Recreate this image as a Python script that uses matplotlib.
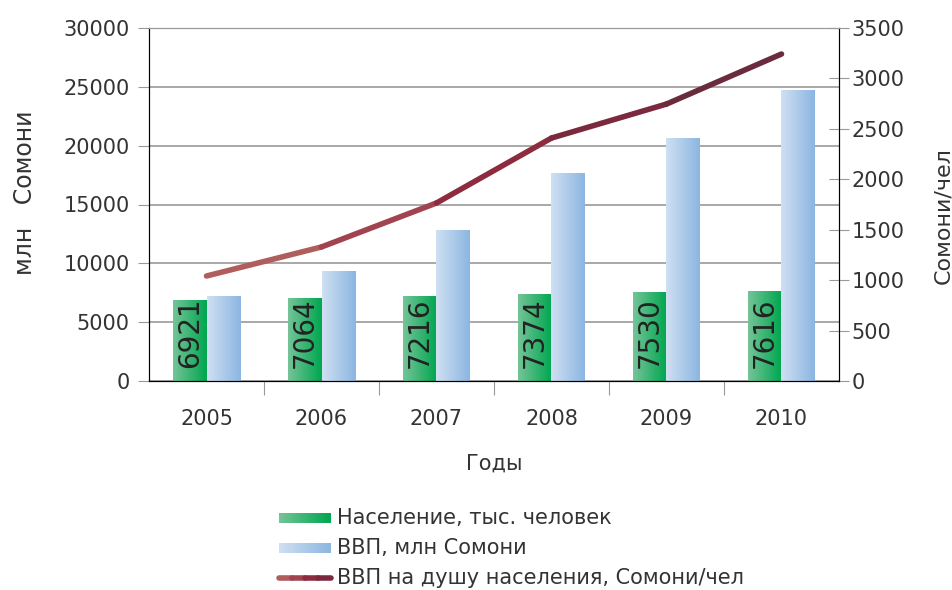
import matplotlib.pyplot as plt
import numpy as np
from matplotlib.collections import LineCollection
from matplotlib.colors import LinearSegmentedColormap

# Data
years = ['2005', '2006', '2007', '2008', '2009', '2010']
population = [6921, 7064, 7216, 7374, 7530, 7616]   # тыс. человек
gdp = [7207, 9335, 12804, 17707, 20623, 24705]      # млн Сомони
gdp_per_capita = [1041, 1329, 1765, 2409, 2746, 3242]  # Сомони/чел

plt.rcParams['font.family'] = ['DejaVu Sans']
txt = '#333333'
fs = 15

green_cm = LinearSegmentedColormap.from_list('g', ['#74c497', '#00a650'])
blue_cm = LinearSegmentedColormap.from_list('b', ['#cfe0f2', '#8cb6e1'])
line_colors = ['#b05d5d', '#a1444f', '#8d2c3e', '#7b2a3e', '#6a2b3d']

fig = plt.figure(figsize=(9.53, 5.9), dpi=100)
ax = fig.add_axes([149/953, 1-381/590, 690/953, 353/590])
ax2 = ax.twinx()

x = np.arange(len(years))
w = 0.29
grad = np.linspace(0, 1, 64).reshape(1, -1)


def gradient_bars(xs, heights, cmap):
    bars = ax.bar(xs, heights, w, color='none', edgecolor='none', zorder=2)
    for b in bars:
        x0, y0 = b.get_x(), b.get_y()
        im = ax.imshow(grad, cmap=cmap, aspect='auto', zorder=2,
                       extent=[x0, x0 + b.get_width(), y0, y0 + b.get_height()])
        im.set_clip_path(b)
    return bars


gradient_bars(x - w/2, population, green_cm)
gradient_bars(x + w/2, gdp, blue_cm)

for xi, v in zip(x, population):
    ax.annotate(str(v), (xi - w/2, 0), xytext=(0, 9), textcoords='offset points',
                rotation=90, ha='center', va='bottom', fontsize=20, color='#222222', zorder=4)

ax.set_xlim(-0.5, 5.5)
ax.set_ylim(0, 30000)
ax.set_yticks(np.arange(0, 30001, 5000))
ax.yaxis.grid(True, color='#999999', linewidth=1.2)
ax.set_axisbelow(True)

ax.set_xticks(np.arange(0.5, 5, 1))
ax.set_xticklabels([])
ax.set_xticks(x, minor=True)
ax.set_xticklabels(years, minor=True)
ax.tick_params(axis='x', which='major', direction='out', length=10, color='#999999')
ax.tick_params(axis='x', which='minor', length=0, pad=20, labelsize=fs, labelcolor=txt)
ax.tick_params(axis='y', direction='out', length=8, color='#999999', labelsize=fs,
               labelcolor=txt, pad=6)

# line on right axis
pts = np.column_stack([x, gdp_per_capita])
segs = [pts[i:i+2] for i in range(len(pts) - 1)]
lc = LineCollection(segs, colors=line_colors, linewidths=4, capstyle='round',
                    joinstyle='round', zorder=5)
ax2.add_collection(lc)
ax2.set_ylim(0, 3500)
ax2.set_yticks(np.arange(0, 3501, 500))
ax2.tick_params(axis='y', direction='inout', length=14, color='#999999', labelsize=fs,
                labelcolor=txt, pad=2)

for a in (ax, ax2):
    a.spines['top'].set_color('#999999')
    a.spines['left'].set_color('black')
    a.spines['right'].set_color('black')
    a.spines['bottom'].set_color('black')

ax.set_ylabel('млн   Сомони', fontsize=17, color=txt)
ax.yaxis.set_label_coords(-0.163, 0.533)
ax2.set_ylabel('Сомони/чел', fontsize=16, color=txt)
ax2.yaxis.set_label_coords(1.136, 0.47)
ax.set_xlabel('Годы', fontsize=fs, color=txt, labelpad=18)

# legend drawn in its own axes (pixel coordinates)
lg = fig.add_axes([0, 0, 1, 110/590])
lg.set_xlim(0, 953)
lg.set_ylim(590, 480)
lg.axis('off')
labels = ['Население, тыс. человек', 'ВВП, млн Сомони',
          'ВВП на душу населения, Сомони/чел']
rows = [518, 548, 578]
lg.imshow(grad, cmap=green_cm, aspect='auto', extent=[279, 331, rows[0] + 5, rows[0] - 5])
lg.imshow(grad, cmap=blue_cm, aspect='auto', extent=[279, 331, rows[1] + 5, rows[1] - 5])
lx = np.array([279, 292, 305, 318, 331])
lsegs = [[(lx[i], rows[2]), (lx[i+1], rows[2])] for i in range(4)]
lg.add_collection(LineCollection(lsegs, colors=line_colors[:4], linewidths=4,
                                 capstyle='round'))
lg.set_xlim(0, 953)
lg.set_ylim(590, 480)
for r, t in zip(rows, labels):
    lg.text(337, r, t, fontsize=fs, color=txt, va='center', ha='left')

fig.savefig('out.png', dpi=100)
